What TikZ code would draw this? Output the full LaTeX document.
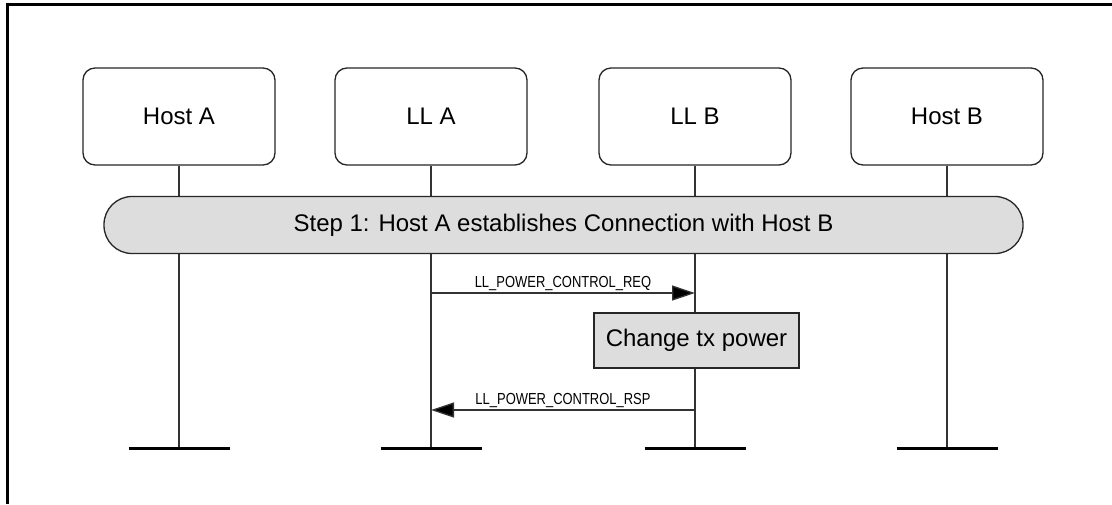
\documentclass[tikz,border=0pt]{standalone}
\usepackage{fontspec}
\setmainfont{Liberation Sans}
\newfontfamily\narrowfont[FakeStretch=0.81]{Liberation Sans}
\usetikzlibrary{arrows.meta,backgrounds,calc}
\definecolor{boxgray}{HTML}{DDDDDD}
\definecolor{linegray}{HTML}{333333}
\tikzset{
  entity/.style={draw=black!85, line width=1.3pt, rounded corners=12pt, fill=white,
    minimum width=192pt, minimum height=97pt, inner sep=0pt,
    font=\fontsize{24}{28}\selectfont},
  stepbar/.style={draw=black!85, line width=1.3pt, rounded corners=28pt, fill=boxgray,
    minimum width=919pt, minimum height=57pt, inner sep=0pt,
    font=\fontsize{24}{28}\selectfont},
  actionbox/.style={draw=black!85, line width=1.3pt, fill=boxgray,
    minimum width=205pt, minimum height=55pt, inner sep=0pt,
    font=\fontsize{24}{28}\selectfont},
  lifeline/.style={draw=linegray, line width=1.3pt},
  endbar/.style={draw=black, line width=3pt},
  msg/.style={draw=linegray, line width=1.3pt, -{Triangle[length=23pt,width=15pt,fill=black]}},
  msglabel/.style={font=\narrowfont\fontsize{16}{19}\selectfont, inner sep=0pt, anchor=base},
  frameline/.style={draw=black, line width=3pt}
}
\begin{document}
\begin{tikzpicture}[x=1pt,y=-1pt]
\useasboundingbox (0,0) rectangle (1112,504);
% frame (top and left edges visible)
\coordinate (fbl) at (7.5,504);
\coordinate (ftl) at (7.5,4.5);
\coordinate (ftr) at (1112,4.5);
\draw[frameline] (fbl) -- (ftl) -- (ftr);

% entities
\node[entity] (hostA) at (179,116.5) {Host A};
\node[entity] (llA)   at (431,116.5) {LL A};
\node[entity] (llB)   at (695,116.5) {LL B};
\node[entity] (hostB) at (947,116.5) {Host B};

% lifeline ends
\coordinate (endA) at (179,448);
\coordinate (endLA) at (431,448);
\coordinate (endLB) at (695,448);
\coordinate (endB) at (947,448);

% step bar
\node[stepbar] (step) at (563.5,225) {Step 1: Host A establishes Connection with Host B};

% action box
\node[actionbox] (change) at (696.5,340.5) {Change tx power};

% lifelines behind
\begin{scope}[on background layer]
\draw[lifeline] (hostA.south) -- (endA);
\draw[lifeline] (llA.south) -- (endLA);
\draw[lifeline] (llB.south) -- (endLB);
\draw[lifeline] (hostB.south) -- (endB);
\end{scope}

% end bars
\draw[endbar] ([xshift=-50.5]endA) -- ([xshift=50.5]endA);
\draw[endbar] ([xshift=-50.5]endLA) -- ([xshift=50.5]endLA);
\draw[endbar] ([xshift=-50.5]endLB) -- ([xshift=50.5]endLB);
\draw[endbar] ([xshift=-50.5]endB) -- ([xshift=50.5]endB);

% messages
\coordinate (reqS) at (431,293);
\coordinate (reqE) at (695,293);
\draw[msg] (reqS) -- (reqE);
\node[msglabel] (reqL) at ([yshift=6]$(reqS)!0.5!(reqE)$) {LL\_POWER\_CONTROL\_REQ};

\coordinate (rspS) at (695,410);
\coordinate (rspE) at (431,410);
\draw[msg] (rspS) -- (rspE);
\node[msglabel] (rspL) at ([yshift=6]$(rspS)!0.5!(rspE)$) {LL\_POWER\_CONTROL\_RSP};
\end{tikzpicture}
\end{document}
